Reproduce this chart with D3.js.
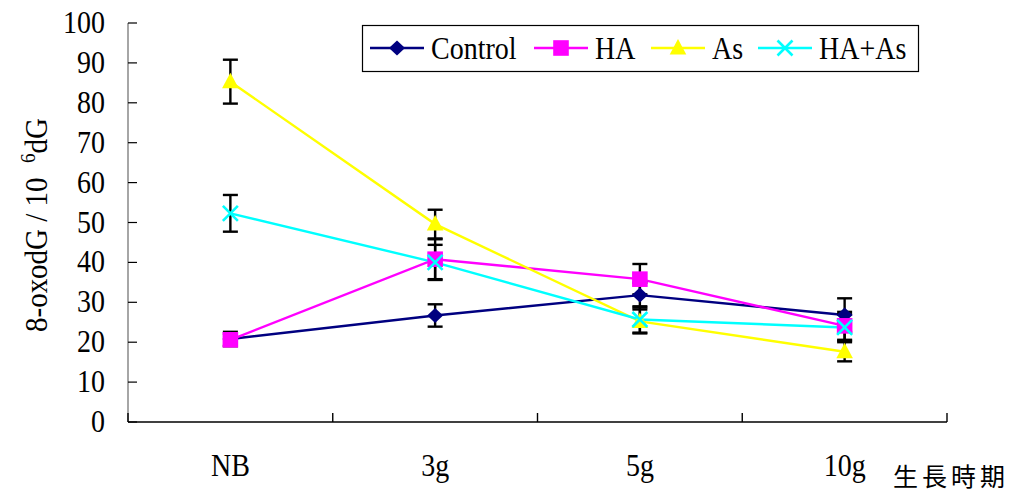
<!DOCTYPE html>
<html><head><meta charset="utf-8">
<script src="https://cdn.jsdelivr.net/npm/d3@7"></script>
<style>body{margin:0;background:#fff}svg{display:block}
.serif{font-family:"Liberation Serif","Times New Roman","DejaVu Serif",serif}</style>
</head><body>
<svg id="c" width="1014" height="494"></svg>
<script>
const categories = ["NB", "3g", "5g", "10g"];
const seriesNames = ["Control", "HA", "As", "HA+As"];
const controlValues = [20.8, 26.7, 31.8, 26.8];
const controlErrors = [1.8, 2.8, 3.1, 4.2];
const haValues = [20.6, 40.8, 35.8, 24.1];
const haErrors = [1.5, 5.0, 3.8, 3.5];
const asValues = [85.3, 49.6, 25.2, 17.6];
const asErrors = [5.5, 3.6, 3.0, 2.4];
const haAsValues = [52.3, 40.0, 25.7, 23.7];
const haAsErrors = [4.6, 4.4, 3.3, 3.3];
const yTicks = [0, 10, 20, 30, 40, 50, 60, 70, 80, 90, 100];

const colors = ["#000080", "#FF00FF", "#FFFF00", "#00FFFF"];
const symbols = ["diamond", "square", "triangle", "x"];
const series = [
  {name: seriesNames[0], v: controlValues, e: controlErrors},
  {name: seriesNames[1], v: haValues, e: haErrors},
  {name: seriesNames[2], v: asValues, e: asErrors},
  {name: seriesNames[3], v: haAsValues, e: haAsErrors}
];

const svg = d3.select("#c");
const L = 128, R = 947, T = 23, B = 422;
const FS = 28, SY = 1.12;
const x = d3.scaleBand().domain(categories).range([L, R]);
const y = d3.scaleLinear().domain([0, 100]).range([B, T]);

function stxt(parent, px, py, str, anchor) {
  return parent.append("text").attr("class", "serif").attr("font-size", FS)
    .attr("text-anchor", anchor || "start")
    .attr("transform", `translate(${px},${py}) scale(1,${SY})`).text(str);
}

// y axis (gray line, black inward ticks)
svg.append("line").attr("x1", L).attr("x2", L).attr("y1", y(100)).attr("y2", B)
  .attr("stroke", "#808080").attr("stroke-width", 1.4);
svg.selectAll(".yt").data(yTicks).join("line")
  .attr("x1", L).attr("x2", L + 9).attr("y1", d => y(d)).attr("y2", d => y(d))
  .attr("stroke", "#000").attr("stroke-width", 1.2);
yTicks.forEach(t => stxt(svg, L - 23, y(t) + 10, String(t), "end"));

// x axis
const xEdges = d3.range(categories.length + 1).map(i => L + i * x.step());
svg.append("line").attr("x1", L).attr("x2", R).attr("y1", B).attr("y2", B).attr("stroke", "#000").attr("stroke-width", 1.5);
svg.selectAll(".xt").data(xEdges).join("line")
  .attr("x1", d => d).attr("x2", d => d).attr("y1", B).attr("y2", B - 9)
  .attr("stroke", "#000").attr("stroke-width", 1.4);
categories.forEach(c => stxt(svg, x(c) + x.bandwidth() / 2, 476, c, "middle"));

svg.append("text").attr("x", 893).attr("y", 486)
  .attr("font-family", "'Noto Sans CJK TC','Noto Sans CJK SC',sans-serif").attr("font-size", 25)
  .attr("letter-spacing", 4).text("生長時期");

// y label
const yl = svg.append("text").attr("class", "serif").attr("font-size", 29)
  .attr("transform", "translate(47,225) rotate(-90) scale(1,1.1)")
  .attr("text-anchor", "middle");
yl.append("tspan").text("8-oxodG / 10 \u00a0");
yl.append("tspan").attr("dy", -11).attr("font-size", 19).text("6");
yl.append("tspan").attr("dy", 11).text("dG");

const cx = d => x(d) + x.bandwidth() / 2;

// lines
series.forEach((s, i) => {
  const line = d3.line().x((d, j) => cx(categories[j])).y(d => y(d));
  svg.append("path").datum(s.v).attr("d", line).attr("fill", "none")
    .attr("stroke", colors[i]).attr("stroke-width", 2.4);
});

// error bars
series.forEach((s, i) => {
  const g = svg.append("g");
  s.v.forEach((v, j) => {
    const px = cx(categories[j]);
    const y1 = y(v + s.e[j]), y2 = y(v - s.e[j]);
    g.append("line").attr("x1", px).attr("x2", px).attr("y1", y1).attr("y2", y2).attr("stroke", "#000").attr("stroke-width", 2.4);
    [y1, y2].forEach(yy => g.append("line").attr("x1", px - 7.5).attr("x2", px + 7.5).attr("y1", yy).attr("y2", yy).attr("stroke", "#000").attr("stroke-width", 2.4));
  });
});

function drawMarker(g, type, px, py, color) {
  if (type === "diamond") {
    g.append("path").attr("d", `M${px},${py-7.5}L${px+8},${py}L${px},${py+7.5}L${px-8},${py}Z`).attr("fill", color);
  } else if (type === "square") {
    g.append("rect").attr("x", px - 7.8).attr("y", py - 7.8).attr("width", 15.6).attr("height", 15.6).attr("fill", color);
  } else if (type === "triangle") {
    g.append("path").attr("d", `M${px},${py-9}L${px+8.3},${py+6.5}L${px-8.3},${py+6.5}Z`).attr("fill", color);
  } else {
    g.append("path").attr("d", `M${px-7.5},${py-7.5}L${px+7.5},${py+7.5}M${px+7.5},${py-7.5}L${px-7.5},${py+7.5}`).attr("stroke", color).attr("stroke-width", 2.6);
  }
}

series.forEach((s, i) => {
  const g = svg.append("g");
  s.v.forEach((v, j) => drawMarker(g, symbols[i], cx(categories[j]), y(v), colors[i]));
});

// legend
const lg = svg.append("g");
lg.append("rect").attr("x", 362.5).attr("y", 25.5).attr("width", 556).attr("height", 46)
  .attr("fill", "#fff").attr("stroke", "#000").attr("stroke-width", 1.2);
const legX = [370, 534, 651, 758];
series.forEach((s, i) => {
  const lx = legX[i], ly = 48;
  lg.append("line").attr("x1", lx).attr("x2", lx + 54).attr("y1", ly).attr("y2", ly).attr("stroke", colors[i]).attr("stroke-width", 2.4);
  drawMarker(lg, symbols[i], lx + 27, ly, colors[i]);
  stxt(lg, lx + 61, 59, s.name, "start");
});
</script>
</body></html>
